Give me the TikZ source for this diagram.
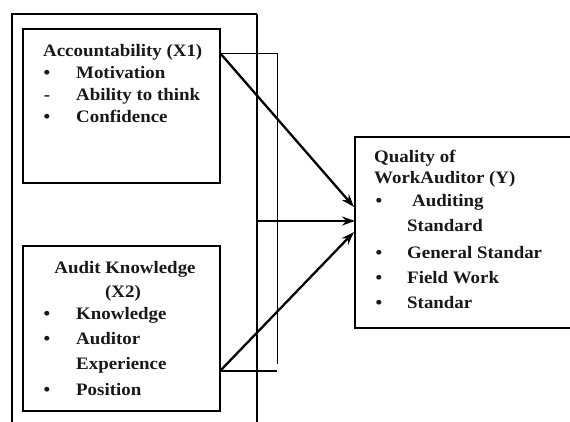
\documentclass[tikz,border=0pt]{standalone}
\usepackage{fontspec}
\setmainfont{Liberation Serif}[FakeStretch=1.08]
\usetikzlibrary{arrows.meta}
\begin{document}
\begin{tikzpicture}[x=1pt,y=-1pt,
  box/.style={draw=black,line width=2.6pt,inner sep=0pt,fill=white},
  thinline/.style={draw=black,line width=0.7pt},
  arr/.style={draw=black,line width=2.3pt,-{Stealth[length=13pt,width=9pt]}},
  txt/.style={anchor=base west,inner sep=0pt,font=\fontsize{17.5}{20}\selectfont\bfseries,text=black!90},
  ctxt/.style={anchor=base,inner sep=0pt,font=\fontsize{17.5}{20}\selectfont\bfseries,text=black!90},
  bul/.style={anchor=base,inner sep=0pt,font=\fontsize{17.5}{20}\selectfont\bfseries,text=black!90}]
\useasboundingbox (0,0) rectangle (570,422);
\fill[white] (0,0) rectangle (570,422);
% outer frame
\coordinate (ob1) at (12,424);
\coordinate (ot1) at (12,14);
\coordinate (ot2) at (257,14);
\coordinate (ob2) at (257,424);
\draw[line width=2.6pt] (ob1) -- (ot1) -- (ot2);
\draw[line width=1.1pt] (ot2) -- (ob2);
% boxes
\node[box,minimum width=197pt,minimum height=154pt] (acc) at (121.5,106) {};
\node[box,minimum width=197pt,minimum height=165pt] (know) at (121.5,328.5) {};
\node[box,minimum width=250pt,minimum height=191pt] (qual) at (480,232.5) {};
% thin connector frame
\coordinate (a1) at (220,53);
\coordinate (f1) at (277,53);
\coordinate (f2) at (277,364);
\coordinate (a3) at (220,371);
\coordinate (f3) at (277,371);
\coordinate (h1) at (257,221);
\draw[thinline] (a1) -- (f1) -- (f2);
\draw[line width=1.1pt] (a3) -- (f3);
% arrows
\coordinate (t1) at (354,207);
\coordinate (t2) at (355,221);
\coordinate (t3) at (354,232);
\draw[arr] (a1) -- (t1);
\draw[arr] (h1) -- (t2);
\draw[arr] (a3) -- (t3);
% texts box 1
\node[txt] (x1) at (43,57) {Accountability (X1)};
\node[bul] (b11) at (47,79) {•};
\node[txt] (x11) at (76,79) {Motivation};
\node[bul] (b12) at (47,101) {-};
\node[txt] (x12) at (76,101) {Ability to think};
\node[bul] (b13) at (47,123) {•};
\node[txt] (x13) at (76,123) {Confidence};
% texts box 2
\node[ctxt] (x2) at (125,273) {Audit Knowledge};
\node[ctxt] (x2b) at (123,297) {(X2)};
\node[bul] (b21) at (47,319) {•};
\node[txt] (x21) at (76,319) {Knowledge};
\node[bul] (b22) at (47,344) {•};
\node[txt] (x22) at (76,344) {Auditor};
\node[txt] (x23) at (76,369) {Experience};
\node[bul] (b23) at (47,395) {•};
\node[txt] (x24) at (76,395) {Position};
% texts box Y
\node[txt] (y1) at (374,163) {Quality of};
\node[txt] (y2) at (374,184) {WorkAuditor (Y)};
\node[bul] (b31) at (379,207) {•};
\node[txt] (y3) at (412,207) {Auditing};
\node[txt] (y4) at (407,232) {Standard};
\node[bul] (b32) at (379,258) {•};
\node[txt] (y5) at (407,258) {General Standar};
\node[bul] (b33) at (379,283) {•};
\node[txt] (y6) at (407,283) {Field Work};
\node[bul] (b34) at (379,308) {•};
\node[txt] (y7) at (407,308) {Standar};
\end{tikzpicture}
\end{document}
